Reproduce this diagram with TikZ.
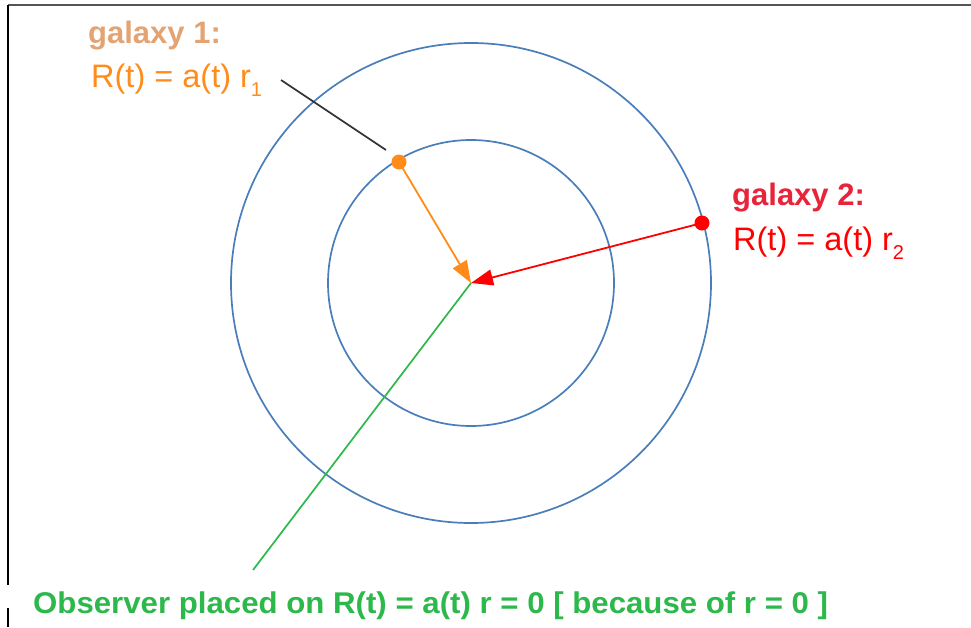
\documentclass[tikz,border=0pt]{standalone}
\usepackage{fontspec}
\setmainfont{Liberation Sans}
\usetikzlibrary{arrows.meta}
\definecolor{ringblue}{HTML}{4A7EBB}
\definecolor{gorange}{HTML}{FF8C1A}
\definecolor{gtan}{HTML}{E3A373}
\definecolor{gred}{HTML}{FF0000}
\definecolor{gredlabel}{HTML}{E8233A}
\definecolor{ggreen}{HTML}{2DB84C}
\definecolor{framegray}{HTML}{555555}
\tikzset{
  ring/.style={draw=ringblue, line width=1.7pt},
  lbl/.style={inner sep=0pt, anchor=base west, font=\fontsize{32.5}{36}\selectfont},
  galdot/.style={circle, inner sep=0pt, minimum size=15pt},
  arr/.style={line width=1.8pt, -{Triangle[length=22pt, width=16pt]}},
}
\begin{document}
\begin{tikzpicture}[x=1pt, y=-1pt]
\useasboundingbox (0,0) rectangle (971,627);
% frame
\draw[framegray, line width=2pt] (8,5) -- (971,5);
\draw[black, line width=1.5pt] (8,5) -- (8,585);
\draw[black, line width=1.5pt] (8,608) -- (8,627);
% rings
\coordinate (O) at (471,283);
\draw[ring] (O) circle[radius=143];
\draw[ring] (O) circle[radius=240];
% galaxies
\node[galdot, fill=gorange] (g1) at (399,162) {};
\node[galdot, fill=gred] (g2) at (702,223) {};
% arrows
\draw[arr, gorange] (g1.center) -- (O);
\draw[arr, gred] (g2.center) -- (O);
% observer line
\coordinate (obsend) at (253,570);
\draw[ggreen, line width=1.7pt] (O) -- (obsend);
% pointer line
\coordinate (p1) at (281,80);
\coordinate (p2) at (386,150);
\draw[black!80, line width=1.7pt] (p1) -- (p2);
% labels
\node[lbl, text=gtan, font=\fontsize{31}{36}\selectfont\bfseries] (t1) at (88,43) {galaxy 1:};
\node[lbl, text=gorange] (t2) at (91,87) {R(t) = a(t) r\raisebox{-0.3em}{\fontsize{20}{22}\selectfont 1}};
\node[lbl, text=gredlabel, font=\fontsize{31}{36}\selectfont\bfseries] (t3) at (732,205) {galaxy 2:};
\node[lbl, text=gred] (t4) at (733,250) {R(t) = a(t) r\raisebox{-0.3em}{\fontsize{20}{22}\selectfont 2}};
\node[lbl, text=ggreen, font=\fontsize{30}{36}\selectfont\bfseries] (t5) at (33,613) {\scalebox{1.04}[1]{Observer placed on R(t) = a(t) r = 0 [ because of r = 0 ]}};
\end{tikzpicture}
\end{document}
